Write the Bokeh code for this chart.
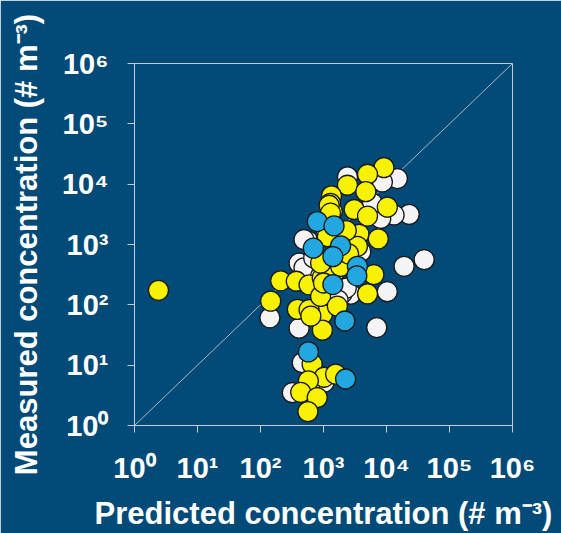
from bokeh.plotting import figure
from bokeh.models import Range1d, FixedTicker, ColumnDataSource
from bokeh.embed import file_html
from bokeh.resources import INLINE

# ---------------- data ----------------
white_x = [2400, 14900, 8600, 22900, 13200, 8100, 6000, 19000, 39600, 10300, 7000,
           141, 410, 410, 590, 2700, 3900, 460, 320, 1020, 2000, 490, 490, 2300,
           1700, 700, 1100, 600, 900]
white_y = [13200, 12400, 10900, 3160, 3090, 2700, 4800, 435, 560, 165, 42,
           61, 41, 490, 1120, 150, 760, 11, 3.5, 5.2, 158, 410, 1200, 190,
           120, 600, 1500, 4.5, 300]

yellow_x = [2.4, 9100, 5000, 2400, 4700, 1340, 1290, 1380, 3070, 10300, 5000, 1230,
            3650, 7400, 3450, 209, 370, 590, 955, 145, 385, 960, 960, 590, 900,
            1660, 6300, 5000, 1470, 900, 2520, 1870, 1150, 1290, 660, 1020, 575,
            1560, 435, 795, 565, 630, 1000, 2500, 2300]
yellow_y = [174, 18800, 14600, 9600, 7500, 6400, 4800, 3500, 3800, 4150, 2960, 4470,
            1480, 1240, 930, 250, 246, 215, 282, 115, 84, 70, 38, 83, 138,
            95, 316, 152, 340, 490, 435, 435, 1350, 3300, 10.4, 6.3, 5.5,
            7.1, 3.55, 2.9, 1.7, 65, 230, 700, 1700]

blue_x = [795, 1470, 690, 1870, 1410, 3450, 3380, 1410, 2180, 575, 2240]
blue_y = [2400, 2030, 870, 950, 630, 435, 303, 217, 54, 16.6, 5.9]

diag = [1, 1e6]

tick_values = [1, 10, 100, 1000, 10000, 100000, 1000000]
tick_labels = ["10\u2070", "10\u00b9", "10\u00b2", "10\u00b3", "10\u2074", "10\u2075", "10\u2076"]

x_title = "Predicted concentration (# m\u207b\u00b3)"
y_title = "Measured concentration (# m\u207b\u00b3)"

# ---------------- style ----------------
BG = "#024a78"
FRAME = "#c3ccd6"
FONT = "Liberation Sans"

p = figure(width=561, height=533, x_axis_type="log", y_axis_type="log",
           x_range=Range1d(1, 1e6), y_range=Range1d(1, 1e6),
           output_backend="svg", toolbar_location=None,
           min_border_left=134, min_border_right=49,
           min_border_top=63, min_border_bottom=106)

p.background_fill_color = BG
p.border_fill_color = BG
p.outline_line_color = FRAME
p.outline_line_width = 1
p.grid.visible = False

for ax in (p.xaxis[0], p.yaxis[0]):
    ax.ticker = FixedTicker(ticks=tick_values)
    ax.major_label_overrides = {v: l for v, l in zip(tick_values, tick_labels)}
    ax.axis_line_color = FRAME
    ax.major_tick_line_color = FRAME
    ax.minor_tick_line_color = None
    ax.major_tick_out = 7
    ax.major_tick_in = 0
    ax.major_label_text_color = "white"
    ax.major_label_text_font = FONT
    ax.major_label_text_font_style = "bold"
    ax.major_label_text_font_size = "29px"
    ax.major_label_standoff = 19
    ax.axis_label_text_color = "white"
    ax.axis_label_text_font = FONT
    ax.axis_label_text_font_style = "bold"
    ax.axis_label_text_font_size = "31px"

p.xaxis.axis_label = x_title
p.yaxis.axis_label = y_title
p.xaxis.axis_label_standoff = 9
p.yaxis.axis_label_standoff = 15
p.xaxis.major_label_orientation = "horizontal"
p.yaxis.major_label_orientation = "horizontal"

# 1:1 line
p.line(diag, diag, line_color="#a9b7c6", line_width=1)

OUT = "#1a1a1a"
p.scatter(x="x", y="y", source=ColumnDataSource(dict(x=white_x, y=white_y)),
          marker="circle", size=20, fill_color="#f4f4f7", line_color=OUT, line_width=1.3)
p.scatter(x="x", y="y", source=ColumnDataSource(dict(x=yellow_x, y=yellow_y)),
          marker="circle", size=20, fill_color="#f7f200", line_color=OUT, line_width=1.3)
p.scatter(x="x", y="y", source=ColumnDataSource(dict(x=blue_x, y=blue_y)),
          marker="circle", size=20, fill_color="#22a7e0", line_color=OUT, line_width=1.3)

open("out.html", "w").write(file_html(p, INLINE))
